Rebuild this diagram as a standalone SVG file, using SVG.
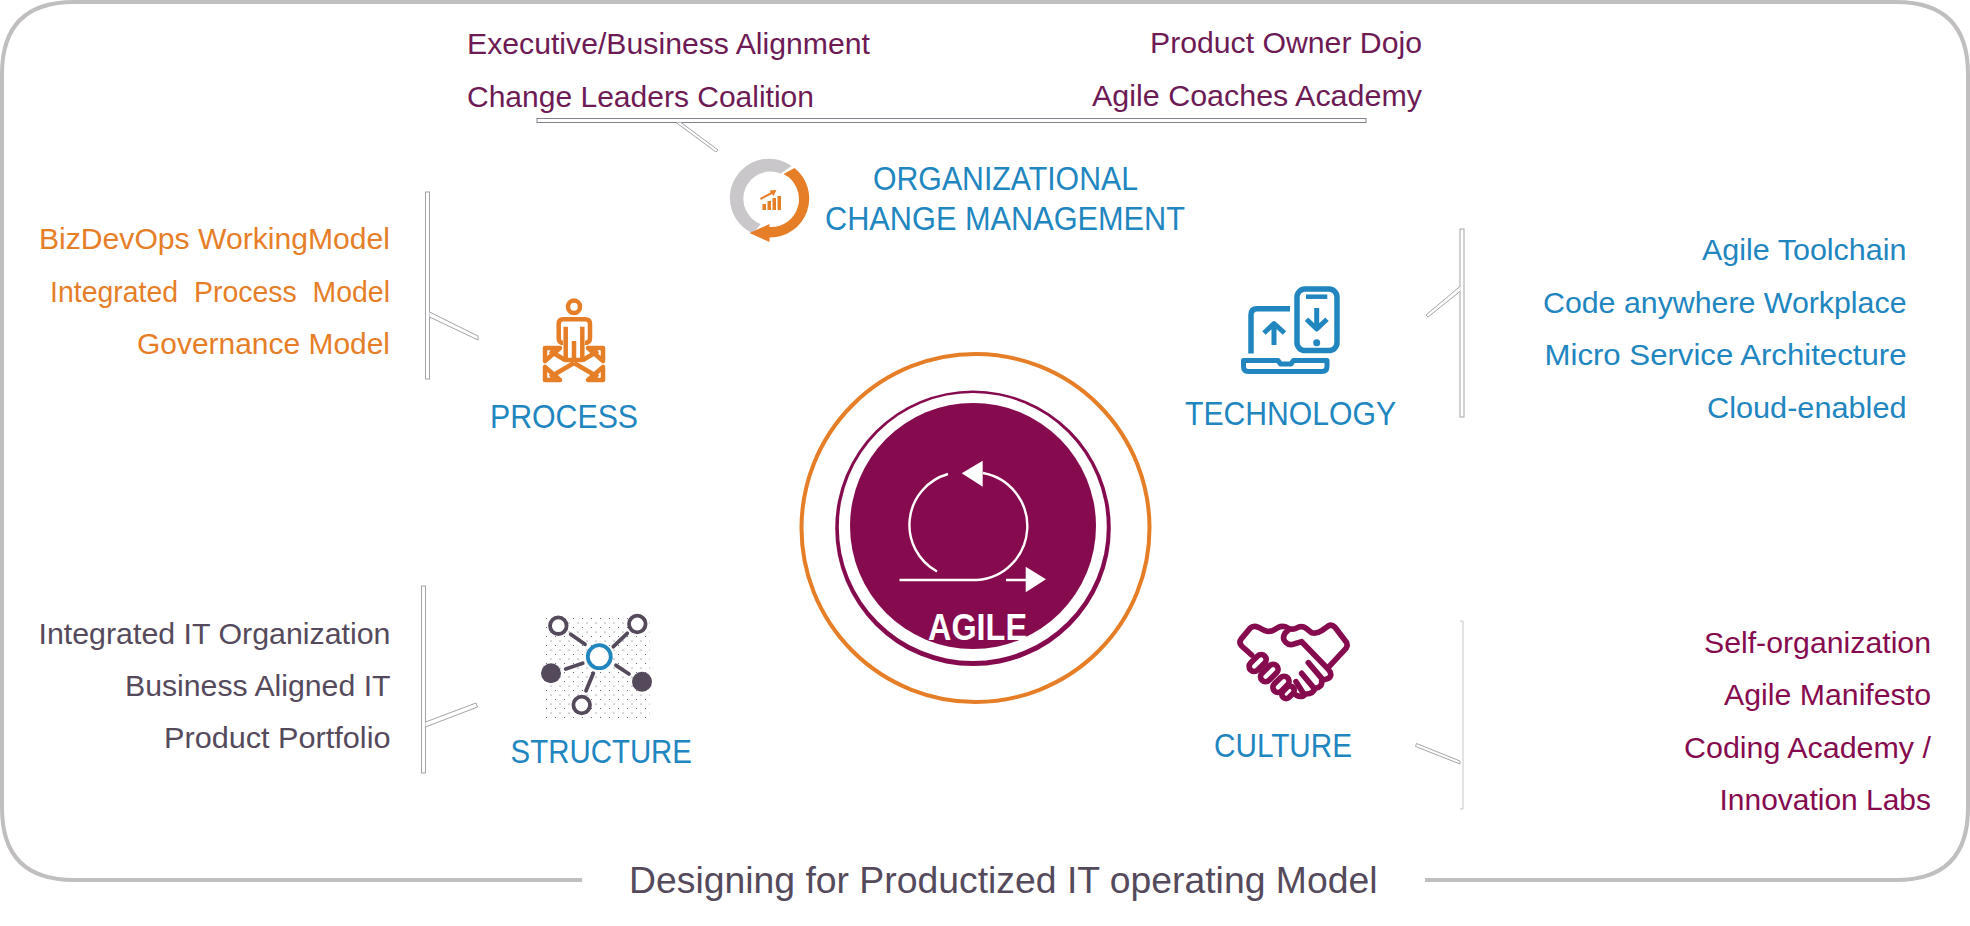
<svg xmlns="http://www.w3.org/2000/svg" width="1970" height="926" viewBox="0 0 1970 926">
<style>
text{font-family:"Liberation Sans",Arial,sans-serif;font-size:30px}
.h{font-size:34px;fill:#2186bf}
.m{fill:#6d1a55}
.o{fill:#e67e28}
.b{fill:#2186bf}
.g{fill:#554a5c}
.c{fill:#860b4e}
.call{fill:#fff;stroke:#a5a3a8;stroke-width:1}
.io{fill:none;stroke:#e67e28;stroke-width:4.5;stroke-linejoin:round}
.ib{fill:none;stroke:#2186bf;stroke-width:5.5;stroke-linejoin:round}
.ig{fill:none;stroke:#554a5c;stroke-width:3.8;stroke-linecap:round}
.ic{fill:#fff;stroke:#860b4e;stroke-width:17;stroke-linejoin:round;stroke-linecap:round}
</style>
<defs>
<pattern id="dots" width="9" height="9" patternUnits="userSpaceOnUse">
<circle cx="2" cy="2" r="0.55" fill="#554a5c"/><circle cx="6.5" cy="6.5" r="0.55" fill="#554a5c"/>
</pattern>
</defs>
<rect width="1970" height="926" fill="#fff"/>
<path id="frame" d="M582,880H74Q2,880 2,808V74Q2,2 74,2H1896Q1968,2 1968,74V808Q1968,880 1896,880H1425" fill="none" stroke="#c0bebf" stroke-width="4"/>
<g id="connectors">
<rect class="call" x="537" y="118.5" width="829" height="4" style="stroke:#85828c"/>
<path class="call" d="M676,122.5L716,152L718,150L681,122.5"/>
<rect class="call" x="425.5" y="192" width="4" height="187"/>
<path class="call" d="M429.5,312L478,336L478,340L429.5,317"/>
<rect class="call" x="1460" y="229" width="4" height="188"/>
<path class="call" d="M1460.5,286L1426,315L1428,317L1460.5,291"/>
<rect class="call" x="421.5" y="586" width="4" height="187"/>
<path class="call" d="M425.5,722L476,703L477.5,707L425.5,727"/>
<path d="M1460,621H1463V809H1460" fill="none" stroke="#c6c6c6" stroke-width="1"/>
<path class="call" d="M1416.5,743.5L1460,761L1460,764L1415.5,746.5Z"/>
</g>
<g id="org-change">
<g transform="translate(1.5,1)">
<path d="M790,165A39,39 0 1 0 752,232.6L759,223A27,27 0 1 1 779,172.5Z" fill="#c9c7c9"/>
<path d="M782,173L793,167A39,39 0 0 1 768,236.5V241L748,232L768,223V226A28,28 0 0 0 782,173Z" fill="#e67e28"/>
<path d="M761,203h3.5v6h-3.5zM766,200h3.5v9h-3.5zM771,197h3.5v12h-3.5zM776,195h3.5v14h-3.5z" fill="#e67e28"/>
<path d="M759,198L772,191" stroke="#e67e28" stroke-width="2" fill="none"/><path d="M775,189L768,189.5L772,195Z" fill="#e67e28"/>
</g>
<text class="h" x="873" y="190" textLength="265" lengthAdjust="spacingAndGlyphs">ORGANIZATIONAL</text>
<text class="h" x="825" y="230" textLength="360" lengthAdjust="spacingAndGlyphs">CHANGE MANAGEMENT</text>
<text class="m" x="467" y="54" textLength="403" lengthAdjust="spacingAndGlyphs">Executive/Business Alignment</text>
<text class="m" x="467" y="107" textLength="347" lengthAdjust="spacingAndGlyphs">Change Leaders Coalition</text>
<text class="m" x="1150" y="52.5" textLength="272" lengthAdjust="spacingAndGlyphs">Product Owner Dojo</text>
<text class="m" x="1092" y="105.5" textLength="330" lengthAdjust="spacingAndGlyphs">Agile Coaches Academy</text>
</g>
<g id="process">
<ellipse class="io" cx="574" cy="306.7" rx="6" ry="6.3"/>
<path class="io" d="M563,343Q558.7,343 558.7,338V324Q558.7,319.3 563,319.3H585Q590,319.3 590,324V338Q590,343 585,343"/>
<path class="io" d="M565.7,326.7V360H582.3V326.7M574,341V360"/>
<path class="io" d="M545,348H560L545,361ZM603,348H588L603,361ZM545,380H560L545,367ZM603,380H588L603,367Z"/>
<path class="io" d="M565,360L550,351M583,360L598,351M574,363L550,377M574,363L598,377"/>
<text class="h" x="490" y="428" textLength="148" lengthAdjust="spacingAndGlyphs">PROCESS</text>
<text class="o" x="39" y="249" textLength="351" lengthAdjust="spacingAndGlyphs">BizDevOps WorkingModel</text>
<text class="o" x="50" y="302" textLength="340" lengthAdjust="spacingAndGlyphs" xml:space="preserve">Integrated  Process  Model</text>
<text class="o" x="137" y="354" textLength="253" lengthAdjust="spacingAndGlyphs">Governance Model</text>
</g>
<g id="technology">
<path class="ib" d="M1290,308.7H1257Q1251,308.7 1251,315V353.5"/>
<path class="ib" d="M1274,345V326M1264,333L1274,323.5L1284.5,333" style="stroke-width:5"/>
<rect class="ib" x="1297" y="289" width="40" height="61.6" rx="8"/>
<path class="ib" d="M1306,296.7H1327.3" style="stroke-width:4.5"/>
<path class="ib" d="M1316.7,308V328M1306.5,319.3L1316.7,329L1327,319.3" style="stroke-width:5"/>
<circle cx="1316.7" cy="342.7" r="3.5" fill="#2186bf"/>
<path class="ib" d="M1243.5,360.5H1278L1280.5,364H1291L1293.5,360.5H1327V366Q1327,371.5 1322,371.5H1248Q1243.5,371.5 1243.5,366Z" style="stroke-width:5"/>
<text class="h" x="1185" y="425" textLength="211" lengthAdjust="spacingAndGlyphs">TECHNOLOGY</text>
<text class="b" x="1702" y="260" textLength="204.5" lengthAdjust="spacingAndGlyphs">Agile Toolchain</text>
<text class="b" x="1543" y="313" textLength="363.5" lengthAdjust="spacingAndGlyphs">Code anywhere Workplace</text>
<text class="b" x="1544.5" y="365" textLength="362" lengthAdjust="spacingAndGlyphs">Micro Service Architecture</text>
<text class="b" x="1707" y="418" textLength="199.5" lengthAdjust="spacingAndGlyphs">Cloud-enabled</text>
</g>
<g id="agile">
<circle cx="975.5" cy="528" r="174" fill="#fff" stroke="#e67e28" stroke-width="4"/>
<circle cx="973" cy="528.3" r="137.8" fill="#860b4e"/>
<circle cx="972.8" cy="527" r="134" fill="#fff"/>
<circle cx="973" cy="526" r="123" fill="#860b4e"/>
<path d="M899.5,580H977A54,54 0 0 0 983,473M948,474A53,53 0 0 0 937,571.5M1006,580H1026" fill="none" stroke="#fff" stroke-width="2.4"/>
<path d="M982.7,460.7V486.7L961.7,473.3ZM1025.7,566.7V592.3L1046,579.3Z" fill="#fff"/>
<text x="928" y="640" font-weight="bold" fill="#fff" style="font-size:36px" textLength="99" lengthAdjust="spacingAndGlyphs">AGILE</text>
</g>
<g id="structure">
<rect x="544" y="616" width="106" height="102" fill="url(#dots)"/>
<circle cx="599.3" cy="656.7" r="11.5" fill="#fff" stroke="#2186bf" stroke-width="3.8"/>
<circle class="ig" cx="558.3" cy="625.7" r="8.3" style="fill:#fff"/>
<circle class="ig" cx="637.3" cy="624" r="8.3" style="fill:#fff"/>
<circle class="ig" cx="581.7" cy="705" r="8.3" style="fill:#fff"/>
<circle cx="551" cy="673.3" r="10" fill="#554a5c"/>
<circle cx="642" cy="681.7" r="10" fill="#554a5c"/>
<path class="ig" d="M570.7,634.3L585,644.3M627.3,633.3L613.3,646.7M565.7,669L582.7,663.3M616,665.3L629,674M593.3,673.3L586,690.7"/>
<text class="h" x="510.6" y="763" textLength="181.4" lengthAdjust="spacingAndGlyphs">STRUCTURE</text>
<text class="g" x="38.5" y="643.5" textLength="352" lengthAdjust="spacingAndGlyphs">Integrated IT Organization</text>
<text class="g" x="125" y="696" textLength="265.5" lengthAdjust="spacingAndGlyphs">Business Aligned IT</text>
<text class="g" x="164" y="748" textLength="226.5" lengthAdjust="spacingAndGlyphs">Product Portfolio</text>
</g>
<g id="culture">
<g transform="translate(1220,610) scale(.3333)">
<path class="ic" style="fill:none" d="M95,135L65,108Q55,98 65,85L90,55Q100,45 115,52L135,62Q150,68 165,58L175,52Q190,45 205,55Q215,60 228,55Q245,45 258,55L275,68Q290,72 305,62L325,48Q335,42 345,52L378,95Q385,105 378,115L325,172"/>
<path class="ic" style="fill:none" d="M205,60L195,70Q185,85 197,97Q208,108 222,102L245,95L325,178Q340,195 325,205L305,212Q308,232 285,235Q280,252 258,252Q245,265 228,255"/>
<path class="ic" style="fill:none" d="M265,158L305,205M245,190L280,232M228,215L250,250"/>
<rect class="ic" x="83" y="144" width="60" height="30" rx="15" transform="rotate(-45 113 159)"/>
<rect class="ic" x="117" y="174" width="62" height="30" rx="15" transform="rotate(-45 148 189)"/>
<rect class="ic" x="155" y="208" width="56" height="30" rx="15" transform="rotate(-45 183 223)"/>
<rect class="ic" x="183" y="234" width="42" height="26" rx="13" transform="rotate(-45 204 247)"/>
</g>
<text class="h" x="1214" y="757" textLength="138" lengthAdjust="spacingAndGlyphs">CULTURE</text>
<text class="c" x="1704" y="652.5" textLength="227" lengthAdjust="spacingAndGlyphs">Self-organization</text>
<text class="c" x="1724" y="705" textLength="207" lengthAdjust="spacingAndGlyphs">Agile Manifesto</text>
<text class="c" x="1684" y="757.5" textLength="247" lengthAdjust="spacingAndGlyphs">Coding Academy /</text>
<text class="c" x="1719.5" y="810" textLength="211.5" lengthAdjust="spacingAndGlyphs">Innovation Labs</text>
</g>
<text id="title" class="g" x="629" y="893" style="font-size:36px" textLength="748.5" lengthAdjust="spacingAndGlyphs">Designing for Productized IT operating Model</text>
</svg>
